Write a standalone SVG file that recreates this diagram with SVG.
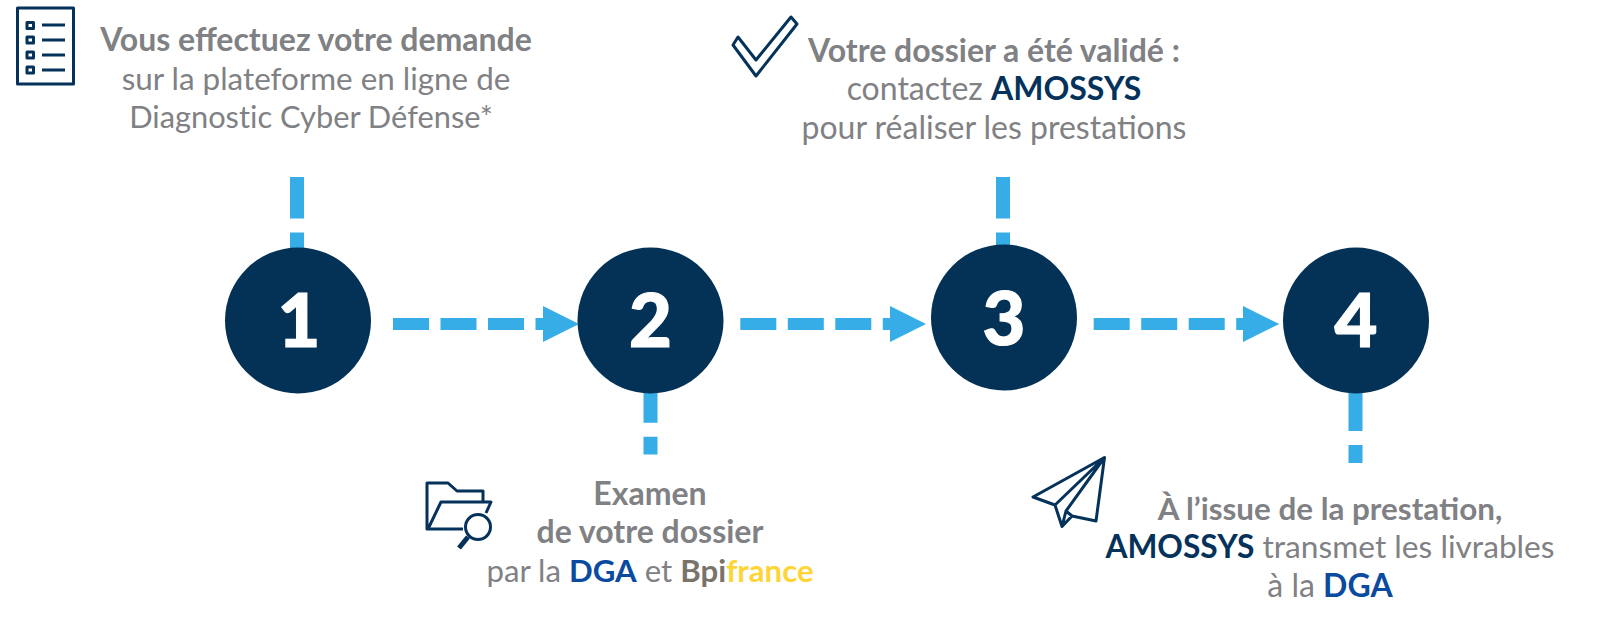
<svg xmlns="http://www.w3.org/2000/svg" width="1600" height="623" viewBox="0 0 1600 623">
<style>
.t{font-family:Lato,"Open Sans",sans-serif;font-size:32px;fill:#808184;text-anchor:middle}
.b{font-weight:700}
.n{fill:#033256}
.a{fill:#05325a;font-weight:700}
.d{fill:#0a4ba0;font-weight:700}
.num{font-family:Lato,sans-serif;font-weight:900;font-size:74px;fill:#fff;stroke:#fff;stroke-width:1.2;text-anchor:middle}
.c{stroke:#36ade6;stroke-width:12;fill:none;stroke-dasharray:36 11.5}
.v{stroke:#36ade6;stroke-width:14;fill:none}
.h{fill:#36ade6}
.i{fill:none;stroke:#05325a;stroke-width:3;stroke-linejoin:round}
</style>
<rect width="1600" height="623" fill="#fff"/>
<g id="connectors">
<path class="v" d="M297 177V250" stroke-dasharray="41.5 14"/>
<path class="c" d="M393 324H544"/><path class="h" d="M543 306L579 324L543 342Z"/>
<path class="v" d="M650.5 392V454.5" stroke-dasharray="30.7 14"/>
<path class="c" d="M740.3 324H891"/><path class="h" d="M890 306L926 324L890 342Z"/>
<path class="v" d="M1003 177V248" stroke-dasharray="41.5 14"/>
<path class="c" d="M1093.7 324H1244"/><path class="h" d="M1243 306L1279.3 324L1243 342Z"/>
<path class="v" d="M1355.5 392V463" stroke-dasharray="39 14"/>
</g>
<g id="node1"><circle class="n" cx="298" cy="320.5" r="73"/><text class="num" x="299" y="347">1</text>
<g class="i"><rect x="17.5" y="8" width="56" height="76"/><path d="M42 25H65M42 40H65M42 55H65M42 70H65"/><rect x="27" y="22.5" width="6.5" height="6"/><rect x="27" y="37" width="6.5" height="6"/><rect x="27" y="52" width="6.5" height="6"/><rect x="27" y="67" width="6.5" height="6"/></g>
<text class="t" x="316" y="51"><tspan class="b">Vous effectuez votre demande</tspan><tspan x="316" y="90" style="font-size:31.4px">sur la plateforme en ligne de</tspan><tspan x="311" y="128" style="font-size:30.8px;font-variant-ligatures:none">Diagnostic Cyber Défense*</tspan></text></g>
<g id="node2"><circle class="n" cx="650.5" cy="320.5" r="73"/><text class="num" x="650.5" y="347">2</text>
<g class="i"><path d="M463 529H427V483H448L457 491H483V501M428 529L441 502H491L486 513"/><circle cx="478" cy="527" r="12.5"/><path d="M468 537L459 548" stroke-width="5"/></g>
<text class="t" x="650" y="505"><tspan class="b">Examen</tspan><tspan x="650" y="543" class="b">de votre dossier</tspan><tspan x="650" y="582" style="font-size:31.2px">par la <tspan class="d">DGA</tspan> et <tspan class="b" style="fill:#7a736a">Bpi</tspan><tspan class="b" style="fill:#fdd537">france</tspan></tspan></text></g>
<g id="node3"><circle class="n" cx="1004" cy="317.5" r="73"/><text class="num" x="1004" y="345">3</text>
<path class="i" d="M733 45L738 37L756 60L791 17L797 24L756 76Z"/>
<text class="t" x="994" y="62"><tspan class="b">Votre dossier a été validé :</tspan><tspan x="994" y="100">contactez <tspan class="a">AMOSSYS</tspan></tspan><tspan x="994" y="139">pour réaliser les prestations</tspan></text></g>
<g id="node4"><circle class="n" cx="1356" cy="320.5" r="73"/><text class="num" x="1356" y="347">4</text>
<path class="i" d="M1104.5 457.5L1033 497L1055 505L1062 526.5L1072 516L1096 521ZM1055 505L1104.5 457.5L1066 511L1062 526.5M1066 511L1072 516"/>
<text class="t" x="1330" y="520"><tspan class="b" style="font-size:31.4px">À l’issue de la prestation,</tspan><tspan x="1330" y="558" style="font-size:31.7px"><tspan class="a">AMOSSYS</tspan> transmet les livrables</tspan><tspan x="1330" y="597">à la <tspan class="d">DGA</tspan></tspan></text></g>
</svg>
